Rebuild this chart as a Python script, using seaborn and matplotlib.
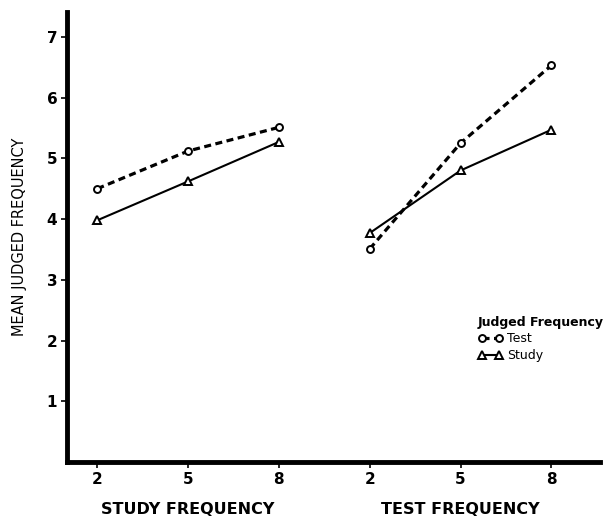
import pandas as pd
import numpy as np
import matplotlib.pyplot as plt
import seaborn as sb

# values
freq_labels = ["2", "5", "8"]
study_block_test = [4.50, 5.12, 5.51]   # judged test freq, by study freq
study_block_study = [3.98, 4.62, 5.27]  # judged study freq, by study freq
test_block_test = [3.51, 5.25, 6.53]    # judged test freq, by test freq
test_block_study = [3.77, 4.80, 5.47]   # judged study freq, by test freq

study_x = [2, 5, 8]
test_x = [11, 14, 17]

sb.set_theme(style="white")
plt.rcParams['font.family'] = ['DejaVu Sans']
for k in ("text.color", "axes.labelcolor", "xtick.color", "ytick.color"):
	plt.rcParams[k] = "black"

rows = []
for blk, xs, tv, sv in (("study", study_x, study_block_test, study_block_study),
                        ("test", test_x, test_block_test, test_block_study)):
	for x, a, b in zip(xs, tv, sv):
		rows.append((blk, x, "Test", a))
		rows.append((blk, x, "Study", b))
df = pd.DataFrame(rows, columns=["block", "x", "judged", "value"])

fig = plt.figure(figsize=(6.11, 5.18), dpi=100)
ax = fig.add_axes([0.1097, 0.108, 0.872, 0.869])

styles = {
	"Test":  dict(ls=(0, (2.2, 1.4)), lw=2.3, marker="o", ms=5),
	"Study": dict(ls="-", lw=1.5, marker="^", ms=6),
}
handles = {}
for (blk, jd), sub in df.groupby(["block", "judged"]):
	st = styles[jd]
	sb.lineplot(data=sub, x="x", y="value", ax=ax, color="black",
				linestyle=st["ls"], linewidth=st["lw"], marker=st["marker"],
				markersize=st["ms"], markerfacecolor="white",
				markeredgecolor="black", markeredgewidth=1.4)
	handles[jd] = ax.lines[-1]

ax.set_xlim(1.0, 18.6)
ax.set_ylim(0, 7.41)
ax.set_yticks([1, 2, 3, 4, 5, 6, 7])
ax.set_yticklabels(["1", "2", "3", "4", "5", "6", "7"], fontsize=11)
ax.set_xticks(study_x + test_x)
ax.set_xticklabels(freq_labels + freq_labels, fontsize=11, fontweight="bold")
ax.tick_params(axis="both", direction="out", length=4, width=1.2, color="black",
			   left=True, bottom=True, pad=3)
for lab in ax.get_yticklabels():
	lab.set_fontweight("bold")

for side in ("top", "right"):
	ax.spines[side].set_visible(False)
for side in ("left", "bottom"):
	ax.spines[side].set_linewidth(3.5)
	ax.spines[side].set_color("black")

ax.set_xlabel("")
ax.set_ylabel("MEAN JUDGED FREQUENCY", fontsize=10.5, labelpad=14)
ax.text(5, -0.78, "STUDY FREQUENCY", ha="center", va="center", fontsize=11.5,
		fontweight="bold")
ax.text(14, -0.78, "TEST FREQUENCY", ha="center", va="center", fontsize=11.5,
		fontweight="bold")

leg = ax.legend([handles["Test"], handles["Study"]], ["Test", "Study"],
				title="Judged Frequency", loc="upper left",
				bbox_to_anchor=(0.755, 0.345), frameon=False, numpoints=2,
				handlelength=2.0, fontsize=9, title_fontsize=9,
				labelspacing=0.3, handletextpad=0.3, borderpad=0.2)
leg.get_title().set_fontweight("bold")
leg._legend_box.align = "left"

plt.savefig("out.png", dpi=100)
